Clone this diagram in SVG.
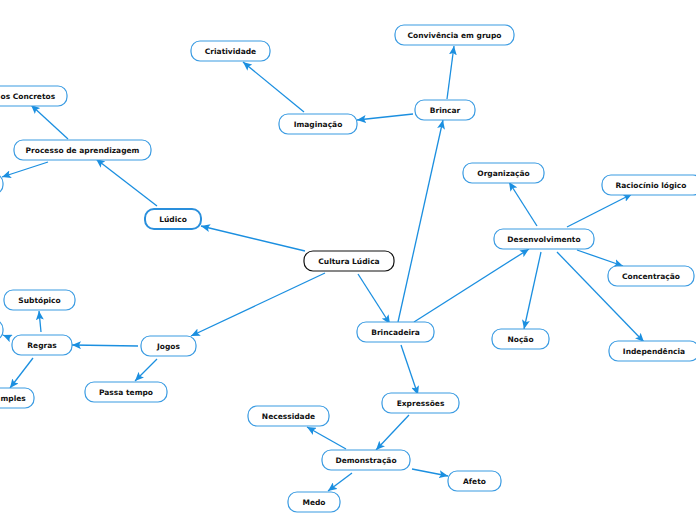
<svg xmlns="http://www.w3.org/2000/svg" width="696" height="520" viewBox="0 0 696 520">
<defs>
<marker id="ah" markerUnits="userSpaceOnUse" markerWidth="10" markerHeight="8" refX="9" refY="4" orient="auto"><path d="M0,0 L9,4 L0,8 L2,4 Z" fill="#1b8fe0"/></marker>
<style>
.n rect{fill:#fff;stroke:#3a9be2;stroke-width:1.2}
.n text{font-family:"DejaVu Sans",Verdana,sans-serif;font-weight:bold;font-size:7.5px;fill:#111;text-anchor:middle;dominant-baseline:central}
#connectors line{stroke:#1b8fe0;stroke-width:1.3;marker-end:url(#ah)}
</style>
</defs>
<rect width="696" height="520" fill="#fff"/>
<g id="connectors">
<line x1="305" y1="251" x2="201" y2="226"/>
<line x1="325" y1="273" x2="191" y2="336"/>
<line x1="358" y1="274" x2="390" y2="324"/>
<line x1="157" y1="206" x2="96" y2="159"/>
<line x1="68" y1="139" x2="31" y2="105"/>
<line x1="48" y1="162" x2="2" y2="177"/>
<line x1="138" y1="346" x2="72" y2="345"/>
<line x1="157" y1="359" x2="135" y2="381"/>
<line x1="41" y1="332" x2="39" y2="311"/>
<line x1="10" y1="338" x2="3" y2="335"/>
<line x1="33" y1="358" x2="10" y2="388"/>
<line x1="398" y1="322" x2="443" y2="120"/>
<line x1="414" y1="322" x2="529" y2="249"/>
<line x1="401" y1="345" x2="418" y2="395"/>
<line x1="413" y1="114" x2="357" y2="120"/>
<line x1="447" y1="99" x2="454" y2="46"/>
<line x1="304" y1="112" x2="243" y2="62"/>
<line x1="537" y1="226" x2="509" y2="182"/>
<line x1="567" y1="227" x2="632" y2="194"/>
<line x1="577" y1="250" x2="623" y2="266"/>
<line x1="541" y1="252" x2="524" y2="329"/>
<line x1="557" y1="252" x2="644" y2="342"/>
<line x1="409" y1="415" x2="376" y2="450"/>
<line x1="346" y1="449" x2="307" y2="427"/>
<line x1="412" y1="469" x2="448" y2="476"/>
<line x1="352" y1="473" x2="328" y2="491"/>
</g>
<g id="cultura" class="n"><rect x="304" y="251" width="90" height="20" rx="9" style="stroke:#111"/><text x="349" y="261">Cultura Lúdica</text></g>
<g id="ludico" class="n"><rect x="145" y="209" width="56" height="20" rx="9" style="stroke-width:2;stroke:#2a8fdc"/><text x="173" y="219">Lúdico</text></g>
<g id="processo" class="n"><rect x="14" y="140" width="137" height="20" rx="9"/><text x="82.5" y="150">Processo de aprendizagem</text></g>
<g id="concretos" class="n"><rect x="-40" y="86" width="107" height="20" rx="9"/><text x="0.5" y="96" style="text-anchor:start">os Concretos</text></g>
<g id="left1" class="n"><rect x="-60" y="174" width="63" height="20" rx="9"/></g>
<g id="jogos" class="n"><rect x="141" y="336" width="55" height="20" rx="9"/><text x="168.5" y="346">Jogos</text></g>
<g id="regras" class="n"><rect x="12" y="335" width="60" height="20" rx="9"/><text x="42" y="345">Regras</text></g>
<g id="subtopico" class="n"><rect x="4" y="290" width="71" height="20" rx="9"/><text x="39.5" y="300">Subtópico</text></g>
<g id="left2" class="n"><rect x="-60" y="320" width="63" height="20" rx="9"/></g>
<g id="simples" class="n"><rect x="-40" y="388" width="74" height="20" rx="9"/><text x="0.5" y="398" style="text-anchor:start">mples</text></g>
<g id="passatempo" class="n"><rect x="85" y="382" width="82" height="20" rx="9"/><text x="126" y="392">Passa tempo</text></g>
<g id="brincadeira" class="n"><rect x="357" y="322" width="77" height="20" rx="9"/><text x="395.5" y="332">Brincadeira</text></g>
<g id="brincar" class="n"><rect x="415" y="100" width="60" height="20" rx="9"/><text x="445" y="110">Brincar</text></g>
<g id="imaginacao" class="n"><rect x="279" y="114" width="78" height="20" rx="9"/><text x="318" y="124">Imaginação</text></g>
<g id="criatividade" class="n"><rect x="191" y="41" width="79" height="20" rx="9"/><text x="230.5" y="51">Criatividade</text></g>
<g id="convivencia" class="n"><rect x="395" y="25" width="119" height="20" rx="9"/><text x="454.5" y="35">Convivência em grupo</text></g>
<g id="desenvolvimento" class="n"><rect x="494" y="229" width="100" height="20" rx="9"/><text x="544" y="239">Desenvolvimento</text></g>
<g id="organizacao" class="n"><rect x="463" y="163" width="81" height="20" rx="9"/><text x="503.5" y="173">Organização</text></g>
<g id="raciocinio" class="n"><rect x="602" y="175" width="100" height="20" rx="9"/><text x="651" y="185">Raciocínio lógico</text></g>
<g id="concentracao" class="n"><rect x="608" y="266" width="86" height="20" rx="9"/><text x="651" y="276">Concentração</text></g>
<g id="nocao" class="n"><rect x="492" y="329" width="57" height="20" rx="9"/><text x="520.5" y="339">Noção</text></g>
<g id="independencia" class="n"><rect x="609" y="341" width="90" height="20" rx="9"/><text x="654" y="351">Independência</text></g>
<g id="expressoes" class="n"><rect x="382" y="393" width="77" height="20" rx="9"/><text x="420.5" y="403">Expressões</text></g>
<g id="demonstracao" class="n"><rect x="322" y="450" width="88" height="20" rx="9"/><text x="366" y="460">Demonstração</text></g>
<g id="necessidade" class="n"><rect x="248" y="406" width="81" height="20" rx="9"/><text x="288.5" y="416">Necessidade</text></g>
<g id="afeto" class="n"><rect x="448" y="471" width="53" height="20" rx="9"/><text x="474.5" y="481">Afeto</text></g>
<g id="medo" class="n"><rect x="288" y="492" width="52" height="20" rx="9"/><text x="314" y="502">Medo</text></g>
</svg>
